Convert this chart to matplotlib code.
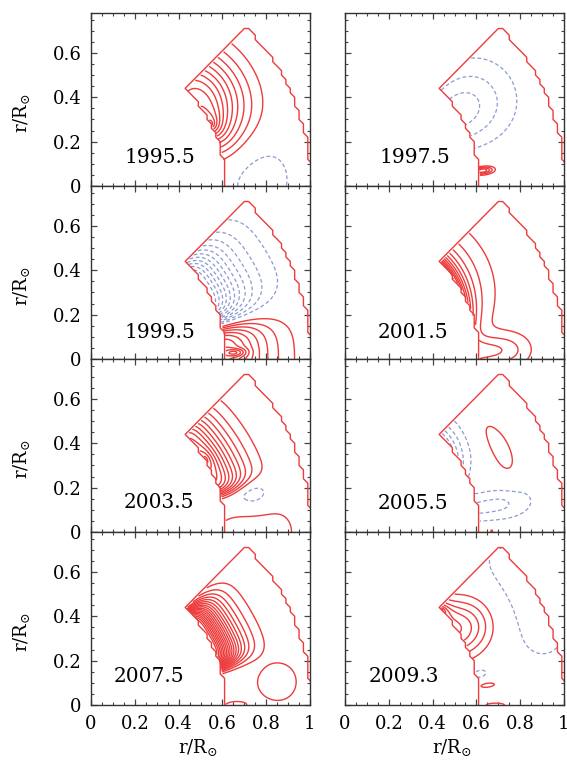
import numpy as np
import matplotlib
matplotlib.use("Agg")
from matplotlib import pyplot as plt

plt.rcParams['font.family'] = 'DejaVu Serif'
plt.rcParams['mathtext.fontset'] = 'dejavuserif'

years = ["1995.5", "1997.5", "1999.5", "2001.5", "2003.5", "2005.5", "2007.5", "2009.3"]

# flow cells:
# (r0, lat0 [deg], amplitude, r width, lat width [deg], r power, lat power, shape exponent)
cells_1995 = [(0.615, 27, 6, 0.05, 6, 2, 2, 0.5),
              (0.615, 40, 9, 0.20, 20, 2, 2, 1),
              (0.77, 3, -1.8, 0.17, 14, 2, 2, 1)]
cells_1997 = [(0.615, 33, -3.6, 0.25, 15, 2, 2, 1),
              (0.63, 6.3, 5, 0.05, 1.5, 2, 2, 1)]
cells_1999 = [(0.615, 32, -12, 0.15, 16, 1.2, 4, 1),
              (0.62, 0, 8, 0.19, 14, 1.5, 4, 1),
              (0.66, 2.5, 3, 0.05, 1.5, 2, 2, 1)]
cells_2001 = [(0.615, 44, 9, 0.04, 25, 1, 2, 1),
              (0.615, 44, 2.2, 0.20, 28, 2, 2, 1),
              (0.62, 3, 3, 0.22, 6, 3, 2, 1)]
cells_2003 = [(0.615, 33, 10, 0.13, 17, 1.5, 8, 1),
              (0.615, 32, 3, 0.03, 4, 2, 2, 0.5),
              (0.76, 13, -1.8, 0.08, 4.5, 2, 2, 1),
              (0.75, 0, 1.6, 0.20, 9, 4, 2, 1)]
cells_2005 = [(0.80, 29, 1.5, 0.07, 14, 2, 2, 1),
              (0.615, 44, -5, 0.06, 16, 1, 2, 1),
              (0.68, 10, -2.3, 0.20, 6, 3, 2, 1),
              (0.67, 0.5, 1.3, 0.015, 1, 2, 2, 1)]
cells_2007 = [(0.615, 30, 19, 0.10, 14, 1.3, 6, 1),
              (0.855, 7, 1.9, 0.11, 7, 2, 2, 1),
              (0.66, 0, 1.5, 0.07, 2, 2, 2, 1)]
cells_2009 = [(0.615, 44, 6, 0.03, 4, 2, 2, 0.5),
              (0.615, 33, 5, 0.17, 11, 2, 2, 1),
              (0.95, 30, -1.5, 0.25, 25, 2, 2, 1),
              (0.63, 13, -1.6, 0.04, 2, 2, 2, 1),
              (0.66, 7.8, 1.5, 0.06, 1.5, 2, 2, 1),
              (0.69, 0, 1.4, 0.09, 1.5, 2, 2, 1)]
all_cells = [cells_1995, cells_1997, cells_1999, cells_2001,
             cells_2003, cells_2005, cells_2007, cells_2009]

label_x = [0.315, 0.32, 0.315, 0.31, 0.31, 0.31, 0.265, 0.27]
label_y = [0.13, 0.13, 0.12, 0.12, 0.135, 0.13, 0.127, 0.128]

r_in, r_out, lat_max = 0.615, 1.005, 45.0
red = '#ee3b3b'
blue = '#8c9bd2'

# fine grid for the flow field
xf = np.arange(0, 1.03, 0.004)
yf = np.arange(0, 0.79, 0.004)
XF, YF = np.meshgrid(xf, yf)
RF = np.hypot(XF, YF)
LF = np.degrees(np.arctan2(YF, XF))
outside = (RF < r_in) | (RF > r_out) | (LF > lat_max)

# coarse grid for the (stepped) domain outline
g = np.round(np.arange(-2, 56) * 0.02, 6)
XC, YC = np.meshgrid(g, g)
RC = np.hypot(XC, YC)
inside = ((RC >= r_in) & (RC <= r_out) & (YC <= XC + 1e-9) & (YC >= -1e-9)).astype(float)


def field(cells):
    psi = np.zeros_like(RF)
    for r0, l0, a, sr, sl, pr, pl, k in cells:
        t = np.abs((RF - r0) / sr) ** pr + np.abs((LF - l0) / sl) ** pl
        psi += a * np.exp(-t ** k)
    return np.ma.masked_where(outside, psi)


fig = plt.figure(figsize=(5.67, 7.6), dpi=100)
lefts = [91 / 567, 345 / 567]
width = 219 / 567
height = 173 / 760
bottom0 = 1 - 705 / 760

for i, cells in enumerate(all_cells):
    row, col = i // 2, i % 2
    ax = fig.add_axes([lefts[col], bottom0 + (3 - row) * height, width, height])
    psi = field(cells)
    top = np.ceil(psi.max())
    low = np.floor(psi.min())
    if top > 1:
        ax.contour(XF, YF, psi, levels=np.arange(1, top), colors=red, linewidths=1.0)
    if low < -1:
        ax.contour(XF, YF, psi, levels=np.arange(low + 1, 0), colors=blue,
                   linewidths=0.9, linestyles=[(0, (3, 2))])
    ax.contour(XC, YC, inside, levels=[0.5], colors=red, linewidths=1.0)
    ax.text(label_x[i], label_y[i], years[i], fontsize=14.5, ha='center', va='center')

    ax.set_xlim(0, 1)
    ax.set_ylim(0, 0.78)
    ax.set_xticks([0, 0.2, 0.4, 0.6, 0.8, 1.0])
    ax.set_xticks(np.arange(0, 1.001, 0.05), minor=True)
    ax.set_yticks([0, 0.2, 0.4, 0.6])
    ax.set_yticks(np.arange(0, 0.78, 0.05), minor=True)
    ax.tick_params(which='both', direction='in', top=True, right=True,
                   color='#444444', labelsize=13, pad=7)
    ax.tick_params(which='major', length=4.5, width=0.9)
    ax.tick_params(which='minor', length=2.5, width=0.8)
    for s in ax.spines.values():
        s.set_color('#333333')
        s.set_linewidth(1.0)
    if col == 0:
        ax.set_yticklabels(['0', '0.2', '0.4', '0.6'])
        ax.set_ylabel(r'$\mathrm{r/R}_{\odot}$', fontsize=13)
        ax.yaxis.set_label_coords(-0.27, 0.42)
    else:
        ax.set_yticklabels([])
    if row == 3:
        ax.set_xticklabels(['0', '0.2', '0.4', '0.6', '0.8', '1'])
        ax.set_xlabel(r'$\mathrm{r/R}_{\odot}$', fontsize=13)
        ax.xaxis.set_label_coords(0.49, -0.185)
    else:
        ax.set_xticklabels([])

fig.savefig('out.png', dpi=100)
